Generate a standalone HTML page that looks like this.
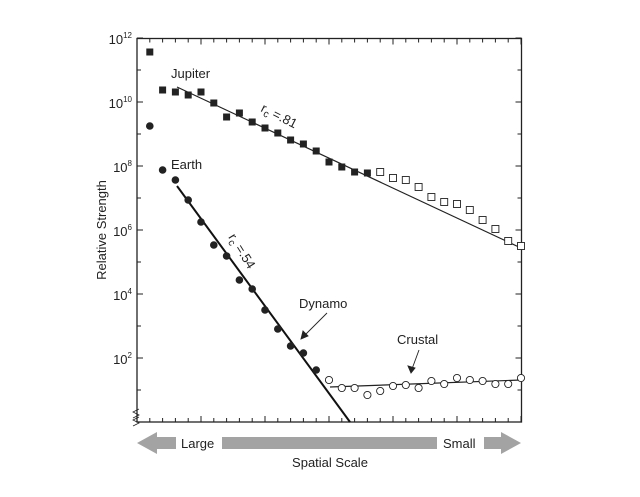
<!DOCTYPE html>
<html><head><meta charset="utf-8"><style>
html,body{margin:0;padding:0;background:#fff;}
svg{display:block;font-family:"Liberation Sans",Arial,sans-serif;}
</style></head><body>
<svg width="640" height="497" viewBox="0 0 640 497" xmlns="http://www.w3.org/2000/svg">
<g stroke="#222" stroke-width="1" fill="none">
<path d="M137,422v-6M149.8,422v-4M162.6,422v-4M175.4,422v-4M188.2,422v-4M201,422v-6M213.8,422v-4M226.6,422v-4M239.4,422v-4M252.2,422v-4M265,422v-6M277.8,422v-4M290.6,422v-4M303.4,422v-4M316.2,422v-4M329,422v-6M341.8,422v-4M354.6,422v-4M367.4,422v-4M380.2,422v-4M393,422v-6M405.8,422v-4M418.6,422v-4M431.4,422v-4M444.2,422v-4M457,422v-6M469.8,422v-4M482.6,422v-4M495.4,422v-4M508.2,422v-4M521,422v-6"/>
<path d="M137,38.5v6M149.8,38.5v4M162.6,38.5v4M175.4,38.5v4M188.2,38.5v4M201,38.5v6M213.8,38.5v4M226.6,38.5v4M239.4,38.5v4M252.2,38.5v4M265,38.5v6M277.8,38.5v4M290.6,38.5v4M303.4,38.5v4M316.2,38.5v4M329,38.5v6M341.8,38.5v4M354.6,38.5v4M367.4,38.5v4M380.2,38.5v4M393,38.5v6M405.8,38.5v4M418.6,38.5v4M431.4,38.5v4M444.2,38.5v4M457,38.5v6M469.8,38.5v4M482.6,38.5v4M495.4,38.5v4M508.2,38.5v4M521,38.5v6"/>
<path d="M137,422h6M137,390h4M137,358h6M137,326h4M137,294h6M137,262h4M137,230h6M137,198h4M137,166h6M137,134h4M137,102h6M137,70h4M137,38h6"/>
<path d="M521.5,422h-6M521.5,390h-4M521.5,358h-6M521.5,326h-4M521.5,294h-6M521.5,262h-4M521.5,230h-6M521.5,198h-4M521.5,166h-6M521.5,134h-4M521.5,102h-6M521.5,70h-4M521.5,38h-6"/>
</g>
<rect x="137" y="38.5" width="384.5" height="383.5" fill="none" stroke="#222" stroke-width="1.3"/>
<g font-size="13" fill="#222" text-anchor="end">
<text x="132" y="44">10<tspan font-size="8" dy="-6">12</tspan></text>
<text x="132" y="108">10<tspan font-size="8" dy="-6">10</tspan></text>
<text x="132" y="172">10<tspan font-size="8" dy="-6">8</tspan></text>
<text x="132" y="236">10<tspan font-size="8" dy="-6">6</tspan></text>
<text x="132" y="300">10<tspan font-size="8" dy="-6">4</tspan></text>
<text x="132" y="364">10<tspan font-size="8" dy="-6">2</tspan></text>
</g>
<text transform="translate(106,230) rotate(-90)" font-size="13" text-anchor="middle" fill="#222">Relative Strength</text>
<path d="M133,418 l6,-3 l-6,-3 l6,-3 M133,426 l6,-3 l-6,-3 l6,-3" stroke="#222" fill="none" stroke-width="0.8"/>
<line x1="177" y1="87" x2="521" y2="248" stroke="#222" stroke-width="1.2"/>
<line x1="177" y1="186" x2="350" y2="422" stroke="#111" stroke-width="2"/>
<line x1="330" y1="387" x2="521" y2="380" stroke="#222" stroke-width="1.2"/>
<g fill="#222">
<rect x="146.3" y="48.5" width="7" height="7"/>
<rect x="159.1" y="86.5" width="7" height="7"/>
<rect x="171.9" y="88.5" width="7" height="7"/>
<rect x="184.7" y="91.5" width="7" height="7"/>
<rect x="197.5" y="88.5" width="7" height="7"/>
<rect x="210.3" y="99.5" width="7" height="7"/>
<rect x="223.1" y="113.5" width="7" height="7"/>
<rect x="235.9" y="109.5" width="7" height="7"/>
<rect x="248.7" y="118.5" width="7" height="7"/>
<rect x="261.5" y="124.5" width="7" height="7"/>
<rect x="274.3" y="129.5" width="7" height="7"/>
<rect x="287.1" y="136.5" width="7" height="7"/>
<rect x="299.9" y="140.5" width="7" height="7"/>
<rect x="312.7" y="147.5" width="7" height="7"/>
<rect x="325.5" y="158.5" width="7" height="7"/>
<rect x="338.3" y="163.5" width="7" height="7"/>
<rect x="351.1" y="168.5" width="7" height="7"/>
<rect x="363.9" y="169.5" width="7" height="7"/>
</g>
<g fill="#fff" stroke="#222" stroke-width="0.9">
<rect x="376.7" y="168.5" width="7" height="7"/>
<rect x="389.5" y="174.5" width="7" height="7"/>
<rect x="402.3" y="176.5" width="7" height="7"/>
<rect x="415.1" y="183.5" width="7" height="7"/>
<rect x="427.9" y="193.5" width="7" height="7"/>
<rect x="440.7" y="198.5" width="7" height="7"/>
<rect x="453.5" y="200.5" width="7" height="7"/>
<rect x="466.3" y="206.5" width="7" height="7"/>
<rect x="479.1" y="216.5" width="7" height="7"/>
<rect x="491.9" y="225.5" width="7" height="7"/>
<rect x="504.7" y="237.5" width="7" height="7"/>
<rect x="517.5" y="242.5" width="7" height="7"/>
</g>
<g fill="#222">
<circle cx="149.8" cy="126" r="3.8"/>
<circle cx="162.6" cy="170" r="3.8"/>
<circle cx="175.4" cy="180" r="3.8"/>
<circle cx="188.2" cy="200" r="3.8"/>
<circle cx="201" cy="222" r="3.8"/>
<circle cx="213.8" cy="245" r="3.8"/>
<circle cx="226.6" cy="256" r="3.8"/>
<circle cx="239.4" cy="280" r="3.8"/>
<circle cx="252.2" cy="289" r="3.8"/>
<circle cx="265" cy="310" r="3.8"/>
<circle cx="277.8" cy="329" r="3.8"/>
<circle cx="290.6" cy="346" r="3.8"/>
<circle cx="303.4" cy="353" r="3.8"/>
<circle cx="316.2" cy="370" r="3.8"/>
</g>
<g fill="#fff" stroke="#222" stroke-width="0.9">
<circle cx="329" cy="380" r="3.6"/>
<circle cx="341.8" cy="388" r="3.6"/>
<circle cx="354.6" cy="388" r="3.6"/>
<circle cx="367.4" cy="395" r="3.6"/>
<circle cx="380.2" cy="391" r="3.6"/>
<circle cx="393" cy="386" r="3.6"/>
<circle cx="405.8" cy="385" r="3.6"/>
<circle cx="418.6" cy="388" r="3.6"/>
<circle cx="431.4" cy="381" r="3.6"/>
<circle cx="444.2" cy="384" r="3.6"/>
<circle cx="457" cy="378" r="3.6"/>
<circle cx="469.8" cy="380" r="3.6"/>
<circle cx="482.6" cy="381" r="3.6"/>
<circle cx="495.4" cy="384" r="3.6"/>
<circle cx="508.2" cy="384" r="3.6"/>
<circle cx="521" cy="378" r="3.6"/>
</g>
<g font-size="13" fill="#222">
<text x="171" y="78">Jupiter</text>
<text x="171" y="169">Earth</text>
<text x="299" y="308">Dynamo</text>
<text x="397" y="344">Crustal</text>
<text transform="translate(260,111) rotate(27)">r<tspan font-size="10" dy="3">c</tspan><tspan dy="-3"> =.81</tspan></text>
<text transform="translate(228,237) rotate(58)">r<tspan font-size="10" dy="3">c</tspan><tspan dy="-3"> =.54</tspan></text>
</g>
<g stroke="#222" stroke-width="0.9" fill="#222">
<line x1="327" y1="313" x2="304" y2="336"/><path d="M301,339 l2,-8 l5,5z"/>
<line x1="419" y1="350" x2="412" y2="369"/><path d="M411,373 l-3,-7 l7,2z"/>
</g>
<g fill="#a3a3a3">
<path d="M137,443 L157,432 L157,437 L176,437 L176,449 L157,449 L157,454 Z"/>
<rect x="222" y="437" width="215" height="12"/>
<path d="M484,437 L501,437 L501,432 L521,443 L501,454 L501,449 L484,449 Z"/>
</g>
<g font-size="13" fill="#222">
<text x="181" y="448">Large</text>
<text x="443" y="448">Small</text>
<text x="330" y="467" text-anchor="middle">Spatial Scale</text>
</g>
</svg>
</body></html>
